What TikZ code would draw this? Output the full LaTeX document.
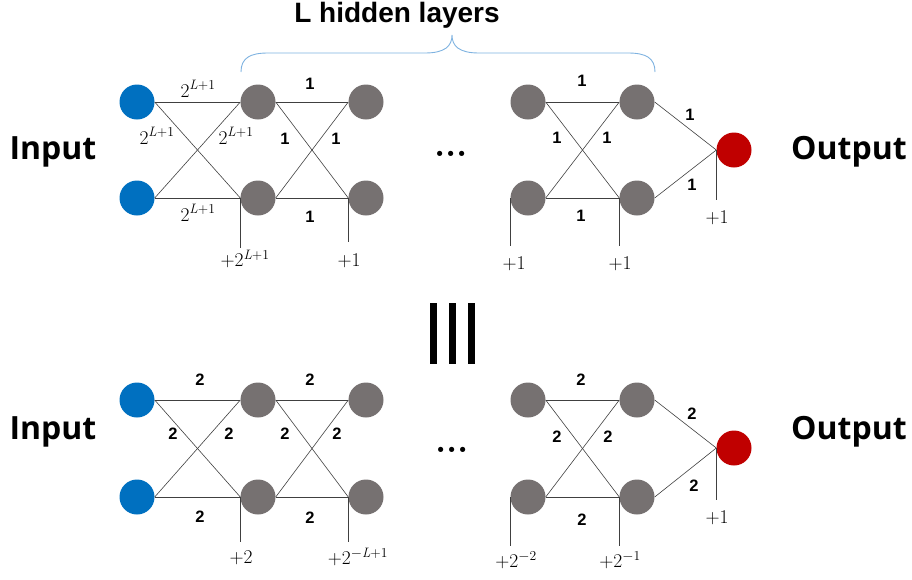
\documentclass[tikz,border=0pt]{standalone}
\usepackage{fontspec}
\setsansfont{Liberation Sans}
\newfontfamily\iofont{Open Sans}
\definecolor{inblue}{HTML}{0070C0}
\definecolor{hgrey}{HTML}{767171}
\definecolor{outred}{HTML}{C00000}
\definecolor{brace}{HTML}{7EB2E0}
\newcommand{\supr}[1]{\textsuperscript{#1}}
\begin{document}
\begin{tikzpicture}[x=1pt,y=-1pt,
  neuron/.style={circle,minimum size=35pt,inner sep=0pt,draw=none},
  innode/.style={neuron,fill=inblue},
  hid/.style={neuron,fill=hgrey},
  outnode/.style={neuron,fill=outred},
  edge/.style={draw=black!75,line width=0.6pt},
  wlab/.style={font=\sffamily\bfseries\fontsize{16.5}{18}\selectfont,inner sep=0pt},
  mlab/.style={font=\rmfamily\fontsize{19.5}{21}\selectfont,inner sep=0pt},
  big/.style={font=\iofont\bfseries\fontsize{32}{35}\selectfont,inner sep=0pt},
  dots/.style={font=\rmfamily\bfseries\fontsize{36}{40}\selectfont,inner sep=0pt,anchor=base}]
\useasboundingbox (0,0) rectangle (912,579);

% ---------- top network ----------
\node[innode] (ti1) at (137,102) {};
\node[innode] (ti2) at (137,198) {};
\node[hid] (ta1) at (258,102) {};
\node[hid] (ta2) at (258,198) {};
\node[hid] (tb1) at (366,102) {};
\node[hid] (tb2) at (366,198) {};
\node[hid] (tc1) at (528,102) {};
\node[hid] (tc2) at (528,198) {};
\node[hid] (td1) at (637,102) {};
\node[hid] (td2) at (637,198) {};
\node[outnode] (to) at (734,150) {};

\foreach \s/\t in {ti1/ta1,ti1/ta2,ti2/ta1,ti2/ta2,ta1/tb1,ta1/tb2,ta2/tb1,ta2/tb2,tc1/td1,tc1/td2,tc2/td1,tc2/td2,td1/to,td2/to}
  \draw[edge] (\s.east) -- (\t.west);

\coordinate (tba) at (ta2.west |- 0,248);
\coordinate (tbb) at (tb2.west |- 0,242);
\coordinate (tbc) at (tc2.west |- 0,246);
\coordinate (tbd) at (td2.west |- 0,246);
\coordinate (tbo) at (to.west |- 0,200);
\draw[edge] (ta2.west) -- (tba);
\draw[edge] (tb2.west) -- (tbb);
\draw[edge] (tc2.west) -- (tbc);
\draw[edge] (td2.west) -- (tbd);
\draw[edge] (to.west) -- (tbo);
\node[mlab] (lba) at (245,259) {+2\supr{\textit{L}+1}};
\node[mlab] (lbb) at (349,261) {+1};
\node[mlab] (lbc) at (514,264) {+1};
\node[mlab] (lbd) at (620,264) {+1};
\node[mlab] (lbo) at (717,218) {+1};

\node[mlab] (w1) at (198,89) {2\supr{\textit{L}+1}};
\node[mlab] (w2) at (157,136) {2\supr{\textit{L}+1}};
\node[mlab] (w3) at (236,136) {2\supr{\textit{L}+1}};
\node[mlab] (w4) at (198,213) {2\supr{\textit{L}+1}};
\node[wlab] (w5) at (310,84) {1};
\node[wlab] (w6) at (285,139) {1};
\node[wlab] (w7) at (336,139) {1};
\node[wlab] (w8) at (310,217) {1};
\node[wlab] (w9) at (582,81) {1};
\node[wlab] (w10) at (557,138) {1};
\node[wlab] (w11) at (607,138) {1};
\node[wlab] (w12) at (581,216) {1};
\node[wlab] (w13) at (690,115) {1};
\node[wlab] (w14) at (692,185) {1};

\node[dots] (tdots) at (451,156) {...};
\node[big] (tin) at (53,152) {Input};
\node[big] (tout) at (849,152) {Output};
\node[font=\sffamily\bfseries\fontsize{28}{30}\selectfont,inner sep=0pt] (title) at (397,15) {L hidden layers};

\coordinate (bl) at (241,72);
\coordinate (bt) at (452,35);
\coordinate (br) at (655,72);
\draw[brace,line width=0.9pt] (bl) .. controls (241,58) and (250,53) .. (268,53)
  -- (425,53) .. controls (445,53) and (452,46) .. (bt)
  .. controls (452,46) and (459,53) .. (479,53)
  -- (628,53) .. controls (646,53) and (655,58) .. (br);

% ---------- equivalence bars ----------
\foreach \x in {433,452,471}
  \fill (\x-3.5,303) rectangle (\x+3.5,364);

% ---------- bottom network ----------
\node[innode] (bi1) at (137,400) {};
\node[innode] (bi2) at (137,497) {};
\node[hid] (ba1) at (258,400) {};
\node[hid] (ba2) at (258,497) {};
\node[hid] (bb1) at (366,400) {};
\node[hid] (bb2) at (366,497) {};
\node[hid] (bc1) at (528,400) {};
\node[hid] (bc2) at (528,497) {};
\node[hid] (bd1) at (637,400) {};
\node[hid] (bd2) at (637,497) {};
\node[outnode] (bo) at (734,448) {};

\foreach \s/\t in {bi1/ba1,bi1/ba2,bi2/ba1,bi2/ba2,ba1/bb1,ba1/bb2,ba2/bb1,ba2/bb2,bc1/bd1,bc1/bd2,bc2/bd1,bc2/bd2,bd1/bo,bd2/bo}
  \draw[edge] (\s.east) -- (\t.west);

\coordinate (bba) at (ba2.west |- 0,542);
\coordinate (bbb) at (bb2.west |- 0,542);
\coordinate (bbc) at (bc2.west |- 0,546);
\coordinate (bbd) at (bd2.west |- 0,546);
\coordinate (bbo) at (bo.west |- 0,500);
\draw[edge] (ba2.west) -- (bba);
\draw[edge] (bb2.west) -- (bbb);
\draw[edge] (bc2.west) -- (bbc);
\draw[edge] (bd2.west) -- (bbd);
\draw[edge] (bo.west) -- (bbo);
\node[mlab] (mba) at (241,558) {+2};
\node[mlab] (mbb) at (358,557) {+2\supr{$-$\textit{L}+1}};
\node[mlab] (mbc) at (516,560) {+2\supr{$-$2}};
\node[mlab] (mbd) at (620,560) {+2\supr{$-$1}};
\node[mlab] (mbo) at (717,518) {+1};

\node[wlab] (v1) at (200,380) {2};
\node[wlab] (v2) at (173,434) {2};
\node[wlab] (v3) at (229,434) {2};
\node[wlab] (v4) at (200,517) {2};
\node[wlab] (v5) at (310,380) {2};
\node[wlab] (v6) at (285,434) {2};
\node[wlab] (v7) at (337,434) {2};
\node[wlab] (v8) at (310,518) {2};
\node[wlab] (v9) at (581,380) {2};
\node[wlab] (v10) at (557,437) {2};
\node[wlab] (v11) at (608,437) {2};
\node[wlab] (v12) at (582,520) {2};
\node[wlab] (v13) at (692,414) {2};
\node[wlab] (v14) at (694,486) {2};

\node[dots] (bdots) at (452,452) {...};
\node[big] (bin) at (53,432) {Input};
\node[big] (bout) at (849,432) {Output};
\end{tikzpicture}
\end{document}
